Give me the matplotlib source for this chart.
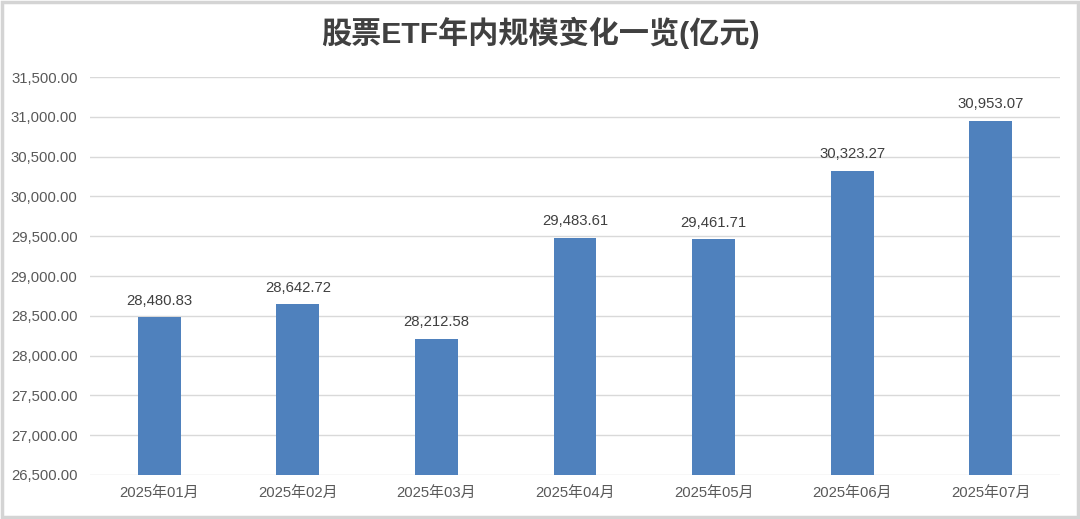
import matplotlib
matplotlib.use("Agg")
import matplotlib.pyplot as plt
from matplotlib.patches import Rectangle
from matplotlib.ticker import FuncFormatter, MultipleLocator

plt.rcParams['font.family'] = ['Liberation Sans', 'Noto Sans CJK SC', 'DejaVu Sans']

months = ["2025年01月", "2025年02月", "2025年03月", "2025年04月", "2025年05月", "2025年06月", "2025年07月"]
values = [28480.83, 28642.72, 28212.58, 29483.61, 29461.71, 30323.27, 30953.07]
title = "股票ETF年内规模变化一览(亿元)"

fig = plt.figure(figsize=(10.8, 5.19), dpi=100)
ax = fig.add_axes([0.0833, 0.0848, 0.8982, 0.7668])

x = list(range(len(months)))
ax.bar(x, values, width=0.31, color="#4F81BD", zorder=3)
for xi, v in zip(x, values):
    ax.text(xi, v + 120, f"{v:,.2f}", ha="center", va="bottom", fontsize=10.7, color="#404040")

ax.set_ylim(26500, 31500)
ax.set_xlim(-0.5, len(months) - 0.5)
ax.yaxis.set_major_locator(MultipleLocator(500))
ax.yaxis.set_major_formatter(FuncFormatter(lambda v, p: f"{v:,.2f}"))
ax.set_xticks(x)
ax.set_xticklabels(months)
ax.tick_params(axis="both", length=0, labelsize=10.7, labelcolor="#595959")
ax.tick_params(axis="y", pad=9)
ax.tick_params(axis="x", pad=8)
ax.grid(axis="y", color="#d9d9d9", linewidth=1, zorder=0)
for s in ax.spines.values():
    s.set_visible(False)

fig.text(0.5, 0.937, title, ha="center", va="center", fontsize=21.7, fontweight="bold", color="#404040")

fig.patches.append(Rectangle((0.002, 0.004), 0.996, 0.992, transform=fig.transFigure,
                             fill=False, edgecolor="#d4d4d4", linewidth=2.5))

fig.savefig("out.png", dpi=100)
